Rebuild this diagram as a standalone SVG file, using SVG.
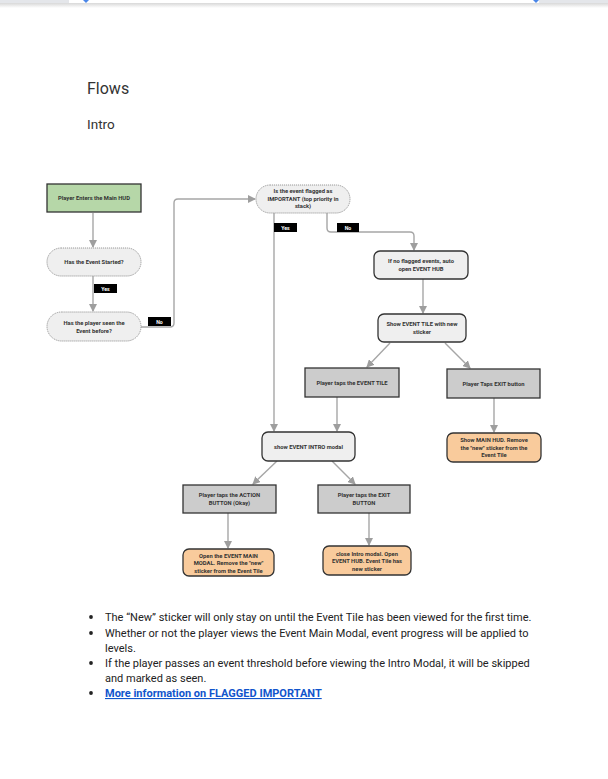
<svg xmlns="http://www.w3.org/2000/svg" width="608" height="779" viewBox="0 0 608 779">
<defs>
<marker id="ah" markerUnits="userSpaceOnUse" markerWidth="8" markerHeight="8" viewBox="0 0 8 8" refX="7" refY="4" orient="auto">
<path d="M0,0 L8,4 L0,8 z" fill="#9e9e9e"/>
</marker>
<linearGradient id="sh" x1="0" y1="0" x2="0" y2="1">
<stop offset="0" stop-color="#d8d8d8"/>
<stop offset="1" stop-color="#ffffff"/>
</linearGradient>
</defs>
<style>
.t{font-family:Roboto,"Liberation Sans",sans-serif;font-size:5.8px;font-weight:bold;fill:#333;text-anchor:middle}
.pill{fill:#efefef;stroke:#9a9a9a;stroke-width:1;stroke-dasharray:1.2 0.8}
.box{fill:#efefef;stroke:#333;stroke-width:1.3}
.grey{fill:#cccccc;stroke:#333;stroke-width:1.3}
.org{fill:#f9cb9c;stroke:#333;stroke-width:1.3}
.c{fill:none;stroke:#a6a6a6;stroke-width:1.4}
.lbl{fill:#000}
.lt{font-family:Roboto,"Liberation Sans",sans-serif;font-size:5.2px;font-weight:bold;fill:#fff;text-anchor:middle}
.body{font-family:Roboto,"Liberation Sans",sans-serif;font-size:11px;fill:#222}
</style>
<rect width="608" height="779" fill="#fff"/>
<rect x="0" y="3" width="608" height="5" fill="url(#sh)"/>
<rect x="0" y="0" width="69" height="3" fill="#e4e6ea"/>
<rect x="539" y="0" width="69" height="3" fill="#e4e6ea"/>
<path d="M83,0 H89 L86,3 z" fill="#4a86e8"/>
<path d="M533,0 H539 L536,3 z" fill="#4a86e8"/>
<text x="87" y="94" font-family="Roboto,'Liberation Sans',sans-serif" font-size="16" fill="#333">Flows</text>
<text x="87" y="129" font-family="Roboto,'Liberation Sans',sans-serif" font-size="13.5" fill="#333">Intro</text>

<g id="connectors">
<path class="c" d="M93,213 V247" marker-end="url(#ah)"/>
<path class="c" d="M93,276 V311" marker-end="url(#ah)"/>
<path class="c" d="M141,327 H170 Q174,327 174,323 V203 Q174,199 178,199 H255" marker-end="url(#ah)"/>
<path class="c" d="M274,213 V431" marker-end="url(#ah)"/>
<path class="c" d="M327,213 V228 Q327,232 331,232 H410 Q414,232 414,236 V250" marker-end="url(#ah)"/>
<path class="c" d="M423,279 V313" marker-end="url(#ah)"/>
<path class="c" d="M390,343 L367,367" marker-end="url(#ah)"/>
<path class="c" d="M445,343 L470,368" marker-end="url(#ah)"/>
<path class="c" d="M337,397 V431" marker-end="url(#ah)"/>
<path class="c" d="M494,398 V432" marker-end="url(#ah)"/>
<path class="c" d="M277,461 L253,484" marker-end="url(#ah)"/>
<path class="c" d="M332,461 L355,484" marker-end="url(#ah)"/>
<path class="c" d="M228,513 V548" marker-end="url(#ah)"/>
<path class="c" d="M369,513 V545" marker-end="url(#ah)"/>
<rect class="lbl" x="94" y="284" width="23" height="9"/>
<text class="lt" x="105.5" y="290.5">Yes</text>
<rect class="lbl" x="148" y="317" width="23" height="9"/>
<text class="lt" x="159.5" y="323.5">No</text>
<rect class="lbl" x="274" y="223" width="23" height="9"/>
<text class="lt" x="285.5" y="229.5">Yes</text>
<rect class="lbl" x="337" y="223" width="22" height="9"/>
<text class="lt" x="348" y="229.5">No</text>
</g>

<g id="n1">
<rect x="47" y="184" width="94" height="28" fill="#b6d7a8" stroke="#333" stroke-width="1.3"/>
<text class="t" x="94" y="200">Player Enters the Main HUD</text>
</g>
<g id="n2">
<rect class="pill" x="47" y="248" width="94" height="28" rx="14"/>
<text class="t" x="94" y="264">Has the Event Started?</text>
</g>
<g id="n3">
<rect class="pill" x="47" y="312" width="94" height="29" rx="14.5"/>
<text class="t" x="94" y="325">Has the player seen the</text>
<text class="t" x="94" y="332.5">Event before?</text>
</g>
<g id="n4">
<rect class="pill" x="256" y="185" width="94" height="28" rx="14"/>
<text class="t" x="303" y="193">Is the event flagged as</text>
<text class="t" x="303" y="200.5">IMPORTANT (top priority in</text>
<text class="t" x="303" y="208">stack)</text>
</g>
<g id="n5">
<rect class="box" x="374" y="251" width="94" height="28" rx="6"/>
<text class="t" x="421" y="263">If no flagged events, auto</text>
<text class="t" x="421" y="270.5">open EVENT HUB</text>
</g>
<g id="n6">
<rect class="box" x="378" y="314" width="88" height="28" rx="6"/>
<text class="t" x="422" y="326">Show EVENT TILE with new</text>
<text class="t" x="422" y="333.5">sticker</text>
</g>
<g id="n7">
<rect class="grey" x="305" y="368" width="94" height="29"/>
<text class="t" x="352" y="384.5">Player taps the EVENT TILE</text>
</g>
<g id="n8">
<rect class="grey" x="447" y="369" width="93" height="29"/>
<text class="t" x="493.5" y="385.5">Player Taps EXIT button</text>
</g>
<g id="n9">
<rect class="box" x="262" y="432" width="93" height="29" rx="6"/>
<text class="t" x="308.5" y="448.5">show EVENT INTRO modal</text>
</g>
<g id="n10">
<rect class="org" x="447" y="433" width="94" height="29" rx="6"/>
<text class="t" x="494" y="442">Show MAIN HUD. Remove</text>
<text class="t" x="494" y="449.5">the "new" sticker from the</text>
<text class="t" x="494" y="457">Event Tile</text>
</g>
<g id="n11">
<rect class="grey" x="183" y="485" width="93" height="28"/>
<text class="t" x="229.5" y="497">Player taps the ACTION</text>
<text class="t" x="229.5" y="504.5">BUTTON (Okay)</text>
</g>
<g id="n12">
<rect class="grey" x="318" y="485" width="92" height="28"/>
<text class="t" x="364" y="497">Player taps the EXIT</text>
<text class="t" x="364" y="504.5">BUTTON</text>
</g>
<g id="n13">
<rect class="org" x="183" y="549" width="91" height="27" rx="6"/>
<text class="t" x="228.5" y="557.5">Open the EVENT MAIN</text>
<text class="t" x="228.5" y="565">MODAL. Remove the "new"</text>
<text class="t" x="228.5" y="572.5">sticker from the Event Tile</text>
</g>
<g id="n14">
<rect class="org" x="323" y="546" width="88" height="29" rx="6"/>
<text class="t" x="367" y="555.5">close Intro modal. Open</text>
<text class="t" x="367" y="563">EVENT HUB. Event Tile has</text>
<text class="t" x="367" y="570.5">new sticker</text>
</g>

<g id="notes">
<circle cx="91" cy="617" r="1.9" fill="#222"/>
<circle cx="91" cy="633" r="1.9" fill="#222"/>
<circle cx="91" cy="663" r="1.9" fill="#222"/>
<circle cx="91" cy="693" r="1.9" fill="#222"/>
<text class="body" x="105" y="621">The “New” sticker will only stay on until the Event Tile has been viewed for the first time.</text>
<text class="body" x="105" y="637">Whether or not the player views the Event Main Modal, event progress will be applied to</text>
<text class="body" x="105" y="652">levels.</text>
<text class="body" x="105" y="667">If the player passes an event threshold before viewing the Intro Modal, it will be skipped</text>
<text class="body" x="105" y="682">and marked as seen.</text>
<text class="body" x="105" y="697" font-weight="bold" style="fill:#1155cc" text-decoration="underline">More information on FLAGGED IMPORTANT</text>
</g>
</svg>
